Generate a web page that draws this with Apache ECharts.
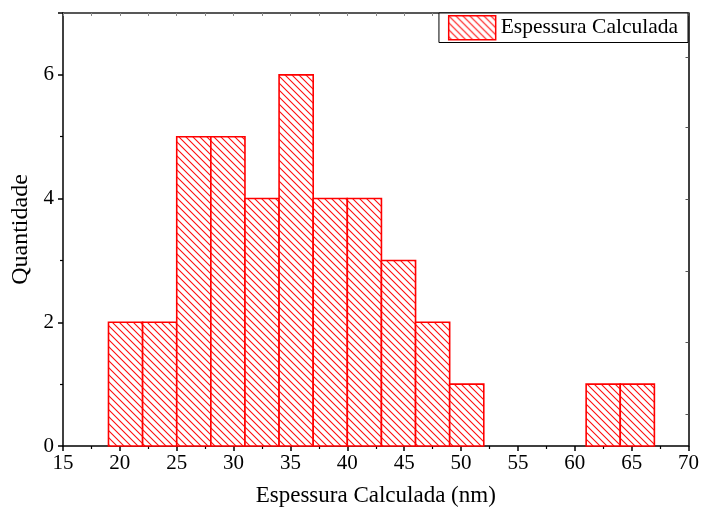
<!DOCTYPE html>
<html>
<head>
<meta charset="utf-8">
<script src="https://cdn.jsdelivr.net/npm/echarts@6/dist/echarts.min.js"></script>
<style>html,body{margin:0;padding:0;background:#fff}#c{width:702px;height:512px}</style>
</head>
<body>
<div id="c"></div>
<script>
// Data
const binStarts = [19, 22, 25, 28, 31, 34, 37, 40, 43, 46, 49, 52, 55, 58, 61, 64];
const binWidth = 3;
const counts = [2, 2, 5, 5, 4, 6, 4, 4, 3, 2, 1, 0, 0, 0, 1, 1];
const seriesName = 'Espessura Calculada';
const xTitle = 'Espessura Calculada (nm)';
const yTitle = 'Quantidade';
const rightTickValues = [0.52, 1.68, 2.83, 3.99, 5.15, 6.29];

function hatch() {
  const s = 7;
  const c = document.createElement('canvas');
  c.width = s; c.height = s;
  const g = c.getContext('2d');
  g.fillStyle = '#fff';
  g.fillRect(0, 0, s, s);
  g.strokeStyle = 'rgba(255,0,0,0.95)';
  g.lineWidth = 1.1;
  g.beginPath();
  g.moveTo(-1, -1); g.lineTo(s + 1, s + 1);
  g.moveTo(-1, s - 1); g.lineTo(1, s + 1);
  g.moveTo(s - 1, -1); g.lineTo(s + 1, 1);
  g.stroke();
  return c;
}
const pattern = { image: hatch(), repeat: 'repeat' };
const font = '"Liberation Serif", "Times New Roman", serif';

const data = binStarts.map((b, i) => [b, b + binWidth, counts[i]]);

const chart = echarts.init(document.getElementById('c'), null, { renderer: 'canvas' });
chart.setOption({
  animation: false,
  backgroundColor: '#fff',
  textStyle: { fontFamily: font },
  grid: { left: 63, right: 11, top: 13, bottom: 66, containLabel: false },
  legend: {
    show: true,
    right: 14, top: 13,
    orient: 'vertical',
    itemWidth: 47, itemHeight: 24,
    padding: [2, 10, 2, 9],
    itemGap: 0,
    borderColor: '#000', borderWidth: 1,
    backgroundColor: '#fff',
    icon: 'rect',
    textStyle: { fontFamily: font, fontSize: 21.5, color: '#000', padding: [0, 0, 0, 0] },
    data: [{ name: seriesName, itemStyle: { color: pattern, borderColor: '#ff0000', borderWidth: 1.5 } }]
  },
  xAxis: [{
    type: 'value', min: 15, max: 70, interval: 5, position: 'bottom',
    name: xTitle, nameLocation: 'middle', nameGap: 38,
    nameTextStyle: { fontFamily: font, fontSize: 23, color: '#000' },
    axisLine: { show: true, onZero: false, lineStyle: { color: '#000', width: 1.5 } },
    axisTick: { show: true, inside: false, length: 5, lineStyle: { color: '#000', width: 1.5 } },
    minorTick: { show: true, splitNumber: 2, length: 3, lineStyle: { color: '#000', width: 1.2 } },
    axisLabel: { fontFamily: font, fontSize: 21, color: '#000', margin: 7 },
    splitLine: { show: false }
  }, {
    type: 'value', min: 15, max: 70, interval: 2.5, position: 'top',
    axisLine: { show: true, onZero: false, lineStyle: { color: '#222', width: 1.5 } },
    axisTick: { show: true, inside: true, length: 3, lineStyle: { color: '#888', width: 1 } },
    axisLabel: { show: false },
    splitLine: { show: false }
  }],
  yAxis: [{
    type: 'value', min: 0, max: 7, interval: 2, position: 'left',
    name: yTitle, nameLocation: 'middle', nameGap: 27,
    nameTextStyle: { fontFamily: font, fontSize: 24, color: '#000' },
    axisLine: { show: true, onZero: false, lineStyle: { color: '#000', width: 1.5 } },
    axisTick: { show: true, inside: false, length: 5, lineStyle: { color: '#000', width: 1.5 } },
    minorTick: { show: true, splitNumber: 2, length: 3, lineStyle: { color: '#000', width: 1.2 } },
    axisLabel: { fontFamily: font, fontSize: 21, color: '#000', margin: 9, showMaxLabel: false },
    splitLine: { show: false }
  }, {
    type: 'value', min: 0, max: 7, position: 'right',
    axisLine: { show: true, onZero: false, lineStyle: { color: '#000', width: 1.5 } },
    axisTick: { show: true, inside: true, length: 3, customValues: rightTickValues, lineStyle: { color: '#555', width: 1 } },
    axisLabel: { show: false },
    splitLine: { show: false }
  }],
  series: [{
    name: seriesName,
    type: 'custom',
    xAxisIndex: 0, yAxisIndex: 0,
    itemStyle: { color: pattern, borderColor: '#ff0000', borderWidth: 1.5 },
    encode: { x: [0, 1], y: 2 },
    data: data,
    renderItem: function (params, api) {
      const v = api.value(2);
      if (!v) return null;
      const p0 = api.coord([api.value(0), 0]);
      const p1 = api.coord([api.value(1), v]);
      return {
        type: 'rect',
        shape: { x: p0[0], y: p1[1], width: p1[0] - p0[0], height: p0[1] - p1[1] },
        style: { fill: pattern, stroke: '#ff0000', lineWidth: 1.6 }
      };
    }
  }]
});
</script>
</body>
</html>
